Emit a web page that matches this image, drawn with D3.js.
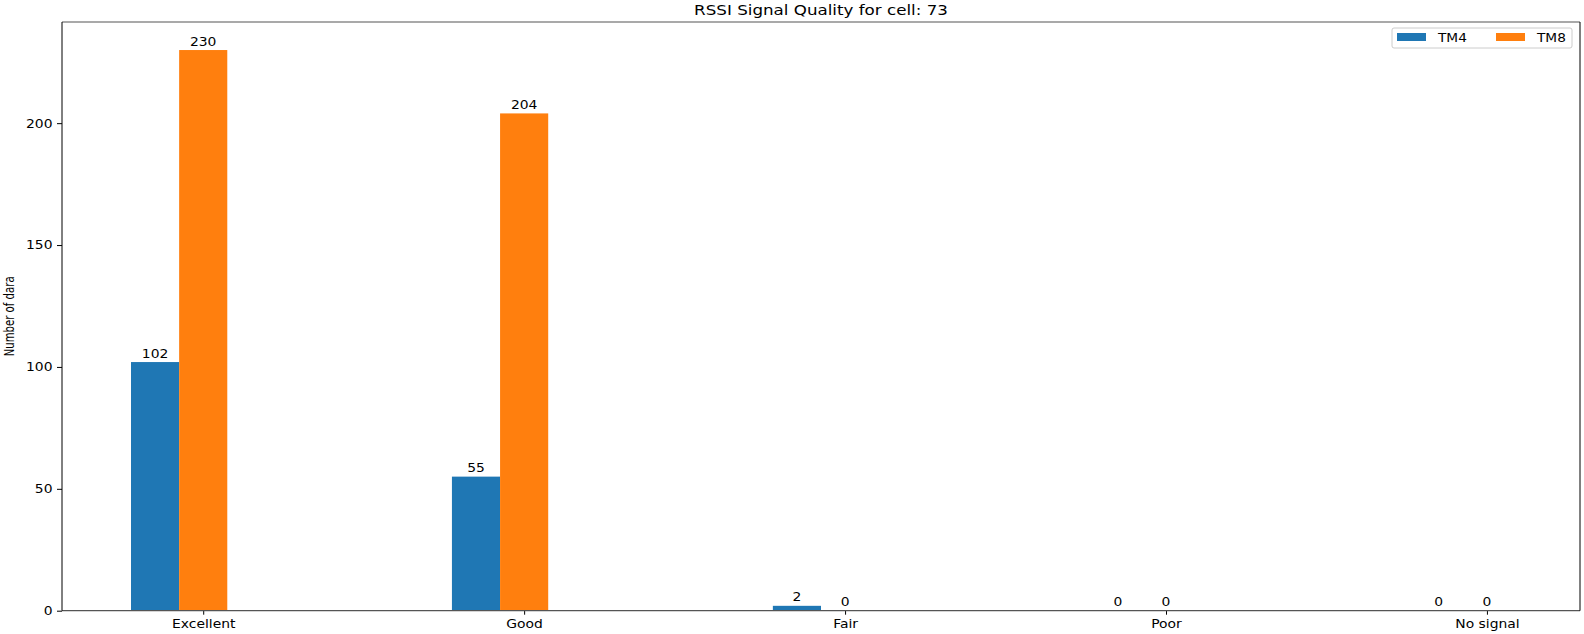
<!DOCTYPE html>
<html>
<head>
<meta charset="utf-8">
<script src="https://cdn.jsdelivr.net/npm/d3@7"></script>
<style>
  body { margin: 0; background: #fff; }
  text { font-family: "DejaVu Sans", sans-serif; fill: #000; }
</style>
</head>
<body>
<div id="RssiChart"></div>
<script>
// values
const categories = ["Excellent", "Good", "Fair", "Poor", "No signal"];
const tm4Values = [102, 55, 2, 0, 0];
const tm8Values = [230, 204, 0, 0, 0];
const seriesNames = ["TM4", "TM8"];
const yTickValues = [0, 50, 100, 150, 200];
const titleText = "RSSI Signal Quality for cell: 73";
const yLabelText = "Number of dara";

let RssiChart = () => {
    let width = 1584, height = 634;
    let left = 62, right = 1580, top = 22, bottom = 610.7;
    let colors = ["#1f77b4", "#ff7f0e"];
    let barW = 0.15;
    // picture is stretched sideways, so text is too
    let sx = 1.13;

    let svg = d3.select("#RssiChart")
        .append("svg")
        .attr("width", width)
        .attr("height", height);

    // bars sit at i - w (TM4) and i (TM8), like matplotlib's default xlim
    let x = d3.scaleLinear()
        .domain([-0.44, 4.29])
        .range([left, right]);

    let y = d3.scaleLinear()
        .domain([0, 241.5])
        .range([bottom, top]);

    let series = [tm4Values, tm8Values];

    let g = svg.append("g");
    series.forEach((vals, s) => {
        let offset = s === 0 ? -barW : 0;
        g.selectAll(".bar" + s)
            .data(vals)
            .enter().append("rect")
            .attr("class", "bar" + s)
            .attr("x", (d, i) => x(i + offset - barW / 2))
            .attr("width", x(barW) - x(0))
            .attr("y", d => y(d))
            .attr("height", d => y(0) - y(d))
            .attr("fill", colors[s]);

        g.selectAll(".lbl" + s)
            .data(vals)
            .enter().append("text")
            .attr("class", "lbl" + s)
            .attr("text-anchor", "middle")
            .attr("font-size", 12.3)
            .attr("transform", (d, i) => "translate(" + x(i + offset) + "," + (y(d) - 4.5) + ") scale(" + sx + ",1)")
            .text(d => d);
    });

    // x axis
    let xAxis = d3.axisBottom(x)
        .tickValues(d3.range(categories.length))
        .tickFormat(i => categories[i])
        .tickSize(4)
        .tickSizeOuter(0);

    let xg = svg.append("g")
        .attr("transform", "translate(0," + bottom + ")")
        .call(xAxis);
    xg.select(".domain").remove();
    xg.selectAll("line").attr("stroke", "#000");
    xg.selectAll("text")
        .attr("font-size", 12.3)
        .attr("font-family", "DejaVu Sans")
        .attr("fill", "#000")
        .attr("dy", null)
        .attr("y", null)
        .attr("transform", "translate(0,17.5) scale(" + sx + ",1)");

    // y axis
    let yAxis = d3.axisLeft(y)
        .tickValues(yTickValues)
        .tickSize(5)
        .tickSizeOuter(0);

    let yg = svg.append("g")
        .attr("transform", "translate(" + left + ",0)")
        .call(yAxis);
    yg.select(".domain").remove();
    yg.selectAll("line").attr("stroke", "#000");
    yg.selectAll("text")
        .attr("font-size", 12.3)
        .attr("font-family", "DejaVu Sans")
        .attr("fill", "#000")
        .attr("x", null)
        .attr("transform", "translate(-9.5,0) scale(" + sx + ",1)");

    // spines
    svg.append("line").attr("x1", left).attr("x2", right).attr("y1", top).attr("y2", top)
        .attr("stroke", "#555").attr("stroke-width", 1.2);
    svg.append("line").attr("x1", left).attr("x2", right).attr("y1", bottom).attr("y2", bottom)
        .attr("stroke", "#555").attr("stroke-width", 1.2);
    svg.append("line").attr("x1", left).attr("x2", left).attr("y1", top).attr("y2", bottom)
        .attr("stroke", "#000").attr("stroke-width", 1);
    svg.append("line").attr("x1", right).attr("x2", right).attr("y1", top).attr("y2", bottom)
        .attr("stroke", "#000").attr("stroke-width", 1);

    // title
    svg.append("text")
        .attr("text-anchor", "middle")
        .attr("font-size", 13.7)
        .attr("transform", "translate(" + (left + right) / 2 + ",15) scale(1.22,1)")
        .text(titleText);

    // y label
    svg.append("text")
        .attr("text-anchor", "middle")
        .attr("font-size", 13.7)
        .attr("transform", "translate(14," + (top + bottom) / 2 + ") rotate(-90) scale(0.74,1)")
        .text(yLabelText);

    // legend
    let legend = svg.append("g");
    legend.append("rect")
        .attr("x", 1392).attr("y", 28)
        .attr("width", 180).attr("height", 20)
        .attr("rx", 2)
        .attr("fill", "#fff")
        .attr("stroke", "#ccc");

    let legendX = [1397, 1496];
    seriesNames.forEach((name, s) => {
        legend.append("rect")
            .attr("x", legendX[s]).attr("y", 33)
            .attr("width", 29).attr("height", 8)
            .attr("fill", colors[s]);
        legend.append("text")
            .attr("font-size", 12)
            .attr("transform", "translate(" + (legendX[s] + 41) + ",42) scale(1.14,1)")
            .text(name);
    });
};

RssiChart();
</script>
</body>
</html>
